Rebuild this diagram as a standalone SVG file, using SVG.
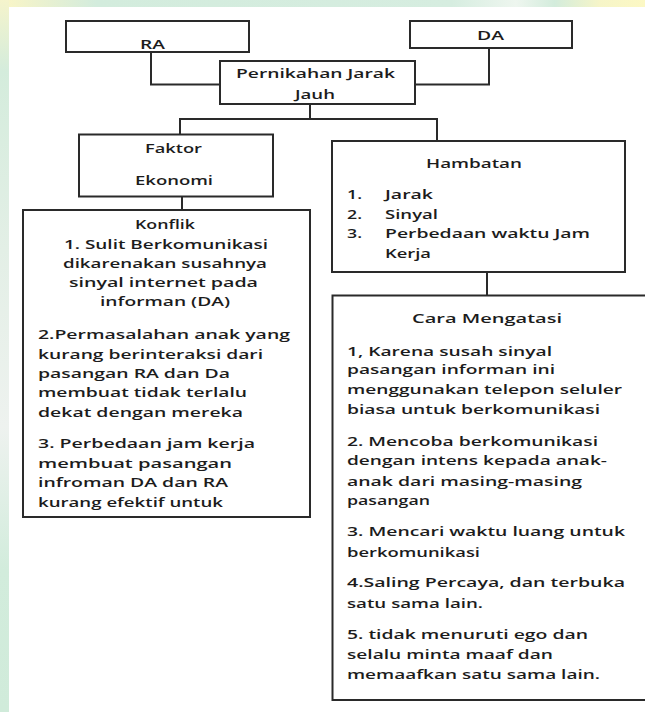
<svg xmlns="http://www.w3.org/2000/svg" width="645" height="712" viewBox="0 0 645 712">
<defs>
<linearGradient id="topband" x1="0" y1="0" x2="1" y2="0">
<stop offset="0" stop-color="#fbf6c6"/>
<stop offset="0.08" stop-color="#e6f0d2"/>
<stop offset="0.15" stop-color="#d3ecdd"/>
<stop offset="0.7" stop-color="#d6ede0"/>
<stop offset="0.8" stop-color="#eef6ef"/>
<stop offset="0.86" stop-color="#d3ecdc"/>
<stop offset="0.93" stop-color="#f6f5c8"/>
<stop offset="1" stop-color="#fcf8c4"/>
</linearGradient>
<linearGradient id="leftband" x1="0" y1="0" x2="0" y2="1">
<stop offset="0" stop-color="#f5f4cc"/>
<stop offset="0.1" stop-color="#d4ecdc"/>
<stop offset="0.35" stop-color="#e3efe6"/>
<stop offset="0.6" stop-color="#eef2ef"/>
<stop offset="0.8" stop-color="#d2ecdc"/>
<stop offset="1" stop-color="#d0ebda"/>
</linearGradient>
</defs>
<style>
.box{fill:#ffffff;stroke:#2a2a2a;stroke-width:2}
.con{fill:none;stroke:#2a2a2a;stroke-width:2}
text{font-family:"Open Sans","Liberation Sans",sans-serif;font-size:12px;font-weight:600;fill:#1c1c1c}
</style>
<rect x="0" y="0" width="645" height="712" fill="#ffffff"/>
<rect x="0" y="0" width="645" height="7" fill="url(#topband)"/>
<rect x="0" y="0" width="9" height="712" fill="url(#leftband)"/>

<g id="connectors">
<path class="con" d="M151 52 V84.5 H220"/>
<path class="con" d="M489 48 V84.5 H415"/>
<path class="con" d="M310 104 V119"/>
<path class="con" d="M180 134 V119 H437 V141"/>
<path class="con" d="M182 197 V210"/>
<path class="con" d="M487 272 V295.5"/>
</g>

<g id="node-ra">
<rect class="box" x="66" y="21" width="183" height="31"/>
<text x="140" y="48.5" textLength="25" lengthAdjust="spacingAndGlyphs">RA</text>
</g>

<g id="node-da">
<rect class="box" x="410" y="21" width="162" height="27"/>
<text x="477" y="39.5" textLength="27" lengthAdjust="spacingAndGlyphs">DA</text>
</g>

<g id="node-pernikahan">
<rect class="box" x="220" y="61" width="195" height="43"/>
<text x="236" y="77.5" textLength="159" lengthAdjust="spacingAndGlyphs">Pernikahan Jarak</text>
<text x="295" y="99" textLength="40" lengthAdjust="spacingAndGlyphs">Jauh</text>
</g>

<g id="node-faktor">
<rect class="box" x="79" y="134.5" width="194" height="62"/>
<text x="145" y="152.5" textLength="57" lengthAdjust="spacingAndGlyphs">Faktor</text>
<text x="135" y="185" textLength="78" lengthAdjust="spacingAndGlyphs">Ekonomi</text>
</g>

<g id="node-hambatan">
<rect class="box" x="332" y="141" width="293" height="131"/>
<text x="426" y="167.5" textLength="96" lengthAdjust="spacingAndGlyphs">Hambatan</text>
<text x="347" y="199" textLength="15" lengthAdjust="spacingAndGlyphs">1.</text>
<text x="385" y="199" textLength="48" lengthAdjust="spacingAndGlyphs">Jarak</text>
<text x="347" y="219" textLength="15" lengthAdjust="spacingAndGlyphs">2.</text>
<text x="385" y="219" textLength="53" lengthAdjust="spacingAndGlyphs">Sinyal</text>
<text x="347" y="237.5" textLength="15" lengthAdjust="spacingAndGlyphs">3.</text>
<text x="385" y="237.5" textLength="205" lengthAdjust="spacingAndGlyphs">Perbedaan waktu Jam</text>
<text x="385" y="257.5" textLength="46" lengthAdjust="spacingAndGlyphs">Kerja</text>
</g>

<g id="node-konflik">
<rect class="box" x="23" y="210" width="287" height="307"/>
<text x="135" y="229" textLength="60" lengthAdjust="spacingAndGlyphs">Konflik</text>
<text x="64" y="248.5" textLength="204" lengthAdjust="spacingAndGlyphs">1. Sulit Berkomunikasi</text>
<text x="63" y="268" textLength="204" lengthAdjust="spacingAndGlyphs">dikarenakan susahnya</text>
<text x="69" y="287" textLength="189" lengthAdjust="spacingAndGlyphs">sinyal internet  pada</text>
<text x="100" y="306" textLength="130" lengthAdjust="spacingAndGlyphs">informan (DA)</text>
<text x="38" y="339" textLength="252" lengthAdjust="spacingAndGlyphs">2.Permasalahan anak yang</text>
<text x="38" y="359" textLength="225" lengthAdjust="spacingAndGlyphs">kurang berinteraksi dari</text>
<text x="38" y="378" textLength="192" lengthAdjust="spacingAndGlyphs">pasangan RA dan Da</text>
<text x="38" y="397" textLength="209" lengthAdjust="spacingAndGlyphs">membuat tidak terlalu</text>
<text x="38" y="417" textLength="205" lengthAdjust="spacingAndGlyphs">dekat dengan mereka</text>
<text x="38" y="447.5" textLength="217" lengthAdjust="spacingAndGlyphs">3. Perbedaan jam kerja</text>
<text x="38" y="467.5" textLength="194" lengthAdjust="spacingAndGlyphs">membuat pasangan</text>
<text x="38" y="487" textLength="190" lengthAdjust="spacingAndGlyphs">infroman DA dan RA</text>
<text x="38" y="507" textLength="185" lengthAdjust="spacingAndGlyphs">kurang efektif untuk</text>
</g>

<g id="node-cara">
<rect class="box" x="332.5" y="295.5" width="320" height="404.5"/>
<text x="412" y="323" textLength="150" lengthAdjust="spacingAndGlyphs">Cara Mengatasi</text>
<text x="347" y="356" textLength="205" lengthAdjust="spacingAndGlyphs">1, Karena susah sinyal</text>
<text x="347" y="374" textLength="208" lengthAdjust="spacingAndGlyphs">pasangan informan ini</text>
<text x="347" y="394" textLength="275" lengthAdjust="spacingAndGlyphs">menggunakan telepon seluler</text>
<text x="347" y="414" textLength="253" lengthAdjust="spacingAndGlyphs">biasa untuk berkomunikasi</text>
<text x="347" y="446" textLength="251" lengthAdjust="spacingAndGlyphs">2. Mencoba berkomunikasi</text>
<text x="347" y="465" textLength="260" lengthAdjust="spacingAndGlyphs">dengan intens kepada anak-</text>
<text x="347" y="486" textLength="235" lengthAdjust="spacingAndGlyphs">anak dari masing-masing</text>
<text x="347" y="505" textLength="83" lengthAdjust="spacingAndGlyphs">pasangan</text>
<text x="347" y="536" textLength="278" lengthAdjust="spacingAndGlyphs">3. Mencari waktu luang untuk</text>
<text x="347" y="557" textLength="133" lengthAdjust="spacingAndGlyphs">berkomunikasi</text>
<text x="347" y="587" textLength="278" lengthAdjust="spacingAndGlyphs">4.Saling Percaya, dan terbuka</text>
<text x="347" y="608" textLength="136" lengthAdjust="spacingAndGlyphs">satu sama lain.</text>
<text x="347" y="639" textLength="241" lengthAdjust="spacingAndGlyphs">5. tidak menuruti ego dan</text>
<text x="347" y="659" textLength="206" lengthAdjust="spacingAndGlyphs">selalu minta maaf dan</text>
<text x="347" y="679" textLength="253" lengthAdjust="spacingAndGlyphs">memaafkan satu sama lain.</text>
</g>
</svg>
